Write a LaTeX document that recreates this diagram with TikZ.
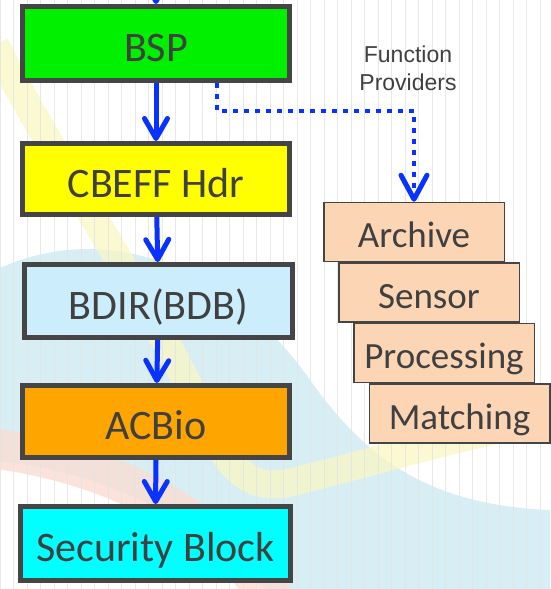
\documentclass[tikz,border=0pt]{standalone}
\usepackage{fontspec}
\setmainfont{Carlito}
\newfontfamily\lsans{Liberation Sans}
\usetikzlibrary{arrows.meta}
\definecolor{txt}{HTML}{404040}
\definecolor{bord}{HTML}{454545}
\definecolor{arr}{HTML}{0A32FF}
\definecolor{bspg}{HTML}{00F000}
\definecolor{hdry}{HTML}{FFFF00}
\definecolor{bdirb}{HTML}{CCEEFC}
\definecolor{acbo}{HTML}{FFA500}
\definecolor{secc}{HTML}{00FFFF}
\definecolor{peach}{HTML}{FCD5B4}
\definecolor{bgblue}{HTML}{D6EEF4}
\definecolor{bgpink}{HTML}{FBDDD2}
\definecolor{bgyel}{HTML}{FAF8C4}
\definecolor{gridc}{HTML}{E3E3E3}
\begin{document}
\begin{tikzpicture}[x=1pt,y=-1pt,
  mainbox/.style={draw=bord, line width=5pt, text=txt, inner sep=0pt,
    font=\fontsize{42}{46}\selectfont, minimum width=267pt,
    text height=36pt, text depth=0pt},
  fpbox/.style={draw=bord, line width=1.5pt, fill=peach, text=txt, inner sep=0pt,
    font=\fontsize{37}{42}\selectfont, minimum width=180.5pt, minimum height=59pt,
    text height=31pt, text depth=0pt},
  arrowline/.style={draw=arr, line width=5pt,
    -{Straight Barb[length=20pt,width=23pt,round]}},
  dotarrow/.style={draw=arr, line width=4pt, dash pattern=on 5pt off 6pt,
    -{Straight Barb[length=24pt,width=26pt,line width=5pt,round]}},
  fptext/.style={font=\lsans\fontsize{23}{28}\selectfont, text=txt, align=center}
]
\useasboundingbox (0,0) rectangle (550,589);
% background watermark
\fill[white] (0,0) rectangle (550,589);
\fill[bgblue] (0,268) .. controls (120,215) and (240,280) .. (310,380)
  .. controls (360,450) and (420,505) .. (550,510) -- (550,589) -- (265,589)
  .. controls (200,520) and (100,470) .. (0,462) -- cycle;
\draw[bgpink, line width=40pt, opacity=0.8] (-10,448) .. controls (100,462) and (200,505) .. (275,600);
\draw[bgyel, line width=28pt, opacity=0.75] (-5,45) .. controls (60,170) and (150,300) .. (205,420)
  .. controls (230,470) and (250,495) .. (300,480) .. controls (400,455) and (480,430) .. (560,418);
\draw[gridc, line width=0.8pt, opacity=0.8] (0,0) grid[step=13.5] (550,589);
% main chain
\node[mainbox, fill=bspg, minimum height=74pt] (bsp) at (156,43.5) {BSP};
\node[mainbox, fill=hdry, minimum height=71pt] (cbeff) at (156,179) {CBEFF Hdr};
\node[mainbox, fill=bdirb, minimum height=73pt, minimum width=268pt] (bdir) at (158.5,301) {BDIR(BDB)};
\node[mainbox, fill=acbo, minimum height=72pt] (acbio) at (156,421.5) {ACBio};
\node[mainbox, fill=secc, minimum height=74pt, minimum width=270pt] (sec) at (155.5,543.5) {Security Block};
% function providers
\node[fpbox] (archive) at (414,232) {Archive};
\node[fpbox] (sensor) at (429,292.5) {Sensor};
\node[fpbox] (proc) at (444,353) {Processing};
\node[fpbox] (match) at (459.5,413.5) {Matching};
\node[fptext] (fp) at (408,68) {Function\\Providers};
% arrows
\begin{scope}
\clip (0,0) rectangle (550,589);
\coordinate (topin) at (156,-40);
\draw[arrowline] (topin) -- (bsp.north);
\end{scope}
\draw[arrowline] (bsp) -- (cbeff);
\draw[arrowline] (cbeff) -- (bdir);
\draw[arrowline] (bdir) -- (acbio);
\draw[arrowline] (acbio) -- (sec);
\coordinate (d1) at (217,111);
\coordinate (d2) at (414,111);
\draw[dotarrow] (bsp.south -| d1) -- (d1) -- (d2) -- (archive.north);
\end{tikzpicture}
\end{document}
